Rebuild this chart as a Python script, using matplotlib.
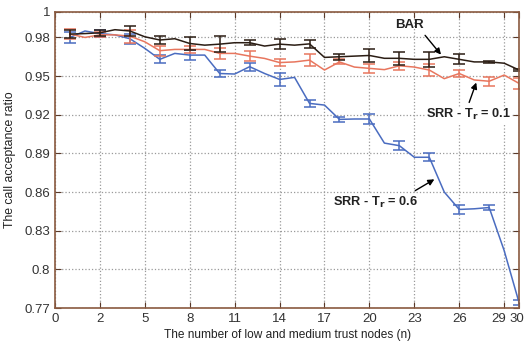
import matplotlib
matplotlib.use("Agg")
import matplotlib.pyplot as plt
import matplotlib.transforms as mtransforms

# x position of each simulation point (31 runs); ticks relabelled below
x = list(range(1, 32))

bar_vals = [0.9826, 0.983, 0.9836, 0.986, 0.985, 0.9805, 0.978, 0.979, 0.9753, 0.974,
            0.9748, 0.9759, 0.9759, 0.9733, 0.9748, 0.974, 0.975, 0.9645, 0.965, 0.9655,
            0.966, 0.9638, 0.9638, 0.963, 0.963, 0.965, 0.963, 0.961, 0.961, 0.960, 0.9547]
srr01_vals = [0.9826, 0.980, 0.982, 0.982, 0.981, 0.9766, 0.9697, 0.9707, 0.9707, 0.9707,
              0.9676, 0.9676, 0.9655, 0.9637, 0.9605, 0.961, 0.9624, 0.9547, 0.961, 0.957,
              0.956, 0.955, 0.958, 0.957, 0.9547, 0.948, 0.952, 0.947, 0.946, 0.9508, 0.9443]
srr06_vals = [0.980, 0.985, 0.983, 0.982, 0.979, 0.9715, 0.963, 0.9676, 0.9663, 0.9663,
              0.952, 0.9516, 0.9573, 0.952, 0.9474, 0.949, 0.9288, 0.9275, 0.9164, 0.9167,
              0.9167, 0.898, 0.896, 0.887, 0.887, 0.860, 0.8465, 0.847, 0.848, 0.8146, 0.774]

# error bars only on odd points
err_x = list(range(1, 32, 2))
bar_err = [0.003, 0.0025, 0.004, 0.003, 0.005, 0.006, 0.002, 0.004,
           0.003, 0.0025, 0.005, 0.005, 0.006, 0.004, 0.001, 0.0008]
srr01_err = [0.004, 0.002, 0.005, 0.004, 0.003, 0.004, 0.004, 0.003,
             0.0045, 0.002, 0.0035, 0.003, 0.0045, 0.003, 0.0035, 0.004]
srr06_err = [0.004, 0.0025, 0.004, 0.003, 0.004, 0.003, 0.003, 0.005,
             0.003, 0.002, 0.0035, 0.0035, 0.003, 0.0035, 0.002, 0.002]

xtick_pos = [0, 3, 6, 9, 12, 15, 18, 21, 24, 27, 30, 31]
xtick_labels = ['0', '2', '5', '8', '11', '14', '17', '20', '23', '26', '29', '30']
ytick_vals = [0.77, 0.8, 0.83, 0.86, 0.89, 0.92, 0.95, 0.98, 1]
ytick_labels = ['0.77', '0.8', '0.83', '0.86', '0.89', '0.92', '0.95', '0.98', '1']

plt.rcParams['font.family'] = ['Liberation Sans', 'DejaVu Sans']

fig = plt.figure(figsize=(5.25, 3.43), dpi=100)
ax = fig.add_axes([0.1048, 0.102, 0.884, 0.864])

c_bar = '#2b1d14'
c_01 = '#e8765e'
c_06 = '#4a6cc0'

for vals, errs, col in [(srr06_vals, srr06_err, c_06),
                        (srr01_vals, srr01_err, c_01),
                        (bar_vals, bar_err, c_bar)]:
    ax.plot(x, vals, color=col, lw=1.1)
    ev = [vals[i - 1] for i in err_x]
    ax.errorbar(err_x, ev, yerr=errs, fmt='none', ecolor=col, elinewidth=1.1,
                capsize=4, capthick=1.1)

ax.set_xlim(0, 31)
ax.set_ylim(0.77, 1.0)
ax.set_xticks(xtick_pos)
ax.set_xticklabels(xtick_labels)
ax.set_yticks(ytick_vals)
ax.set_yticklabels(ytick_labels)
ax.tick_params(direction='in', top=True, right=True, length=4, labelsize=9.5,
               colors='#5a3a2a', labelcolor='#333333')
# squeeze the last two x labels apart so they don't collide / clip
lab = ax.get_xticklabels()[-1]
lab.set_transform(lab.get_transform() + mtransforms.ScaledTranslation(-2 / 100, 0, fig.dpi_scale_trans))
lab2 = ax.get_xticklabels()[-2]
lab2.set_transform(lab2.get_transform() + mtransforms.ScaledTranslation(-5 / 100, 0, fig.dpi_scale_trans))
for s in ax.spines.values():
    s.set_color('#8a5a40')
    s.set_linewidth(1.2)
ax.grid(True, linestyle=':', color='#999999', lw=0.9)

ax.set_xlabel('The number of low and medium trust nodes (n)', fontsize=8.6,
              color='#222222', labelpad=3)
ax.set_ylabel('The call acceptance ratio', fontsize=8.8, color='#222222', labelpad=6)

arrow = dict(arrowstyle='-|>', color='black', lw=1.0, mutation_scale=9)
ax.annotate('', xy=(25.9, 0.965), xytext=(24.6, 0.9833), arrowprops=arrow)
ax.text(23.7, 0.9895, 'BAR', fontsize=9.5, fontweight='bold', ha='center', va='center',
        color='#222222')
ax.annotate('', xy=(28.2, 0.947), xytext=(27.6, 0.9275), arrowprops=arrow)
ax.text(27.6, 0.92, r'SRR - T$_\mathbf{r}$ = 0.1', fontsize=9.2, fontweight='bold',
        ha='center', va='center', color='#222222',
        bbox=dict(facecolor='white', edgecolor='none', pad=0.5))
ax.annotate('', xy=(25.5, 0.871), xytext=(23.9, 0.860), arrowprops=arrow)
ax.text(21.4, 0.8523, r'SRR - T$_\mathbf{r}$ = 0.6', fontsize=9.2, fontweight='bold',
        ha='center', va='center', color='#222222',
        bbox=dict(facecolor='white', edgecolor='none', pad=0.5))

fig.savefig('out.png', dpi=100)
